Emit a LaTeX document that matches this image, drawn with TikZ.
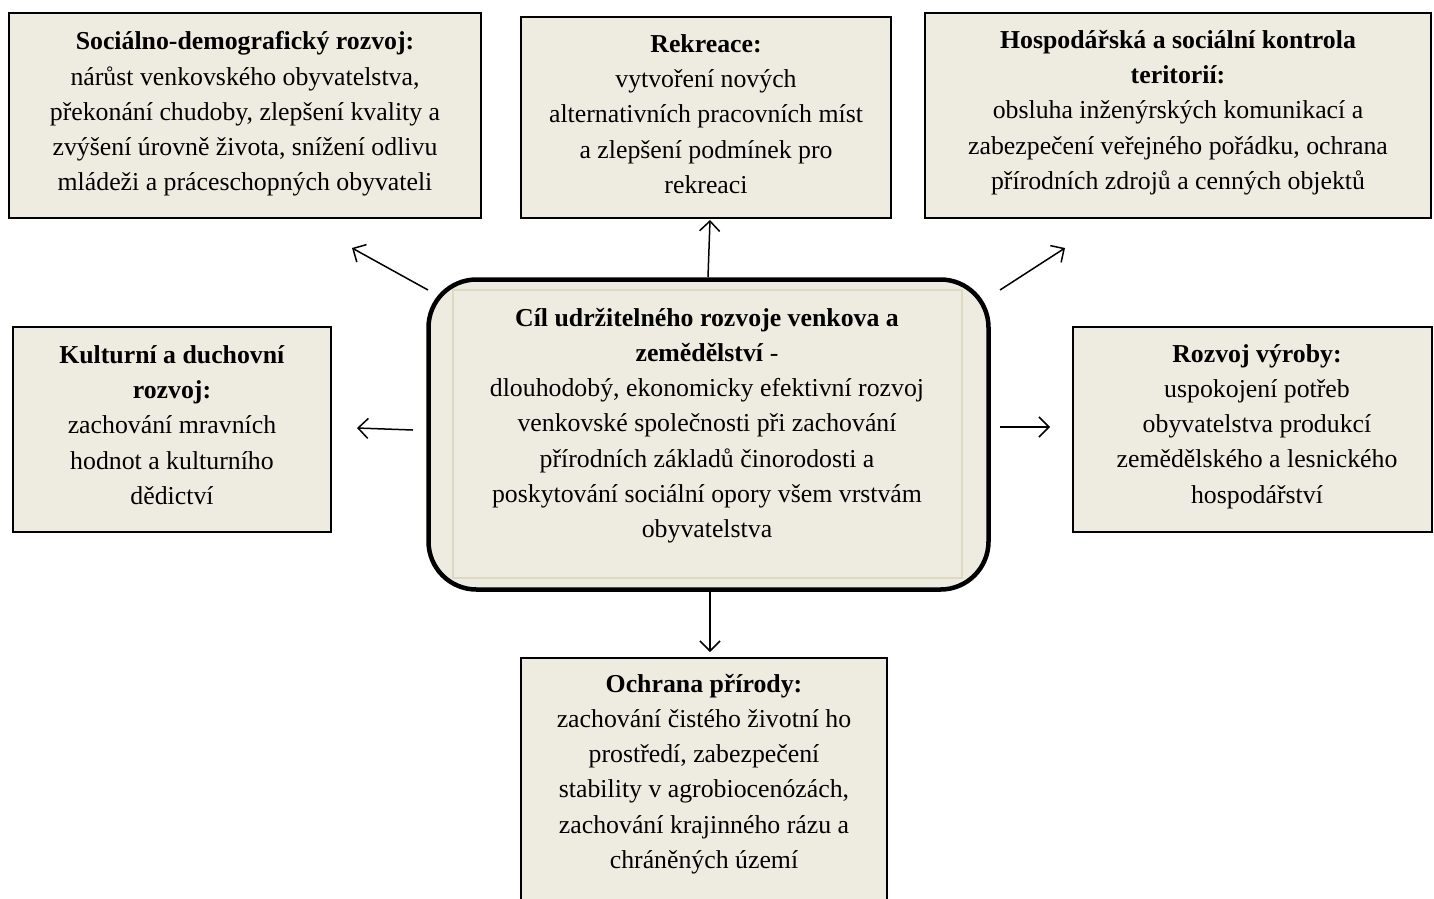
\documentclass[tikz,border=0pt]{standalone}
\usepackage{fontspec}
\setmainfont{Liberation Serif}
\usetikzlibrary{arrows.meta}
\definecolor{tan}{HTML}{EEECE1}
\definecolor{tanline}{HTML}{DDD9C3}
\begin{document}
\begin{tikzpicture}[x=1pt,y=-1pt,
  box/.style={draw=black,line width=1.5pt,fill=tan,inner sep=0pt},
  txt/.style={align=center,font=\fontsize{25.8}{35.2}\selectfont,inner sep=0pt},
  arr/.style={-{Straight Barb[length=10pt,width=20pt,line width=1.5pt]},line width=1.5pt}]
\useasboundingbox (0,0) rectangle (1434,898);
\fill[white] (0,0) rectangle (1434,898);
% boxes
\node[box,minimum width=472,minimum height=205] (b1) at (245,115.5) {};
\node[txt] (t1) at (245,114) {\textbf{Sociálno-demografický rozvoj:}\\nárůst venkovského obyvatelstva,\\překonání chudoby, zlepšení kvality a\\zvýšení úrovně života, snížení odlivu\\mládeži a práceschopných obyvateli};
\node[box,minimum width=370,minimum height=201] (b2) at (706,117.5) {};
\node[txt] (t2) at (706,114) {\textbf{Rekreace:}\\vytvoření nových\\alternativních pracovních míst\\a zlepšení podmínek pro\\rekreaci};
\node[box,minimum width=506,minimum height=205] (b3) at (1178,115.5) {};
\node[txt] (t3) at (1178,112.5) {\textbf{Hospodářská a sociální kontrola}\\\textbf{teritorií:}\\obsluha inženýrských komunikací a\\zabezpečení veřejného pořádku, ochrana\\přírodních zdrojů a cenných objektů};
\node[box,minimum width=318,minimum height=205] (b4) at (172,429.5) {};
\node[txt] (t4) at (172,425) {\textbf{Kulturní a duchovní}\\\textbf{rozvoj:}\\zachování mravních\\hodnot a kulturního\\dědictví};
\node[box,minimum width=359,minimum height=205] (b6) at (1252.5,429.5) {};
\node[txt] (t6) at (1257,426.5) {\textbf{Rozvoj výroby:}\\uspokojení potřeb\\obyvatelstva produkcí\\zemědělského a lesnického\\hospodářství};
\node[box,minimum width=366,minimum height=260,anchor=north] (b7) at (704,657) {};
\node[txt] (t7) at (704,774) {\textbf{Ochrana přírody:}\\zachování čistého životní ho\\prostředí, zabezpečení\\stability v agrobiocenózách,\\zachování krajinného rázu a\\chráněných území};
% central
\node[draw=black,line width=4.5pt,fill=tan,rounded corners=48pt,minimum width=560,minimum height=310] (c) at (708.5,434.5) {};
\node[draw=tanline,line width=1.5pt,minimum width=509,minimum height=288] (ci) at (707.5,434) {};
\node[txt] (ct) at (707,425.5) {\textbf{Cíl udržitelného rozvoje venkova a}\\\textbf{zemědělství} -\\dlouhodobý, ekonomicky efektivní rozvoj\\venkovské společnosti při zachování\\přírodních základů činorodosti a\\poskytování sociální opory všem vrstvám\\obyvatelstva};
% arrows
\coordinate (a1s) at (428,290); \coordinate (a1e) at (352,248);
\coordinate (a2s) at (708,277); \coordinate (a2e) at (710,220);
\coordinate (a3s) at (1000,290); \coordinate (a3e) at (1065,248);
\coordinate (a4s) at (413,430); \coordinate (a4e) at (357,428);
\coordinate (a5s) at (1000,427); \coordinate (a5e) at (1050,427);
\coordinate (a6s) at (710,592); \coordinate (a6e) at (710,652);
\draw[arr] (a1s) -- (a1e);
\draw[arr] (a2s) -- (a2e);
\draw[arr] (a3s) -- (a3e);
\draw[arr] (a4s) -- (a4e);
\draw[arr] (a5s) -- (a5e);
\draw[arr] (a6s) -- (a6e);
\end{tikzpicture}
\end{document}
